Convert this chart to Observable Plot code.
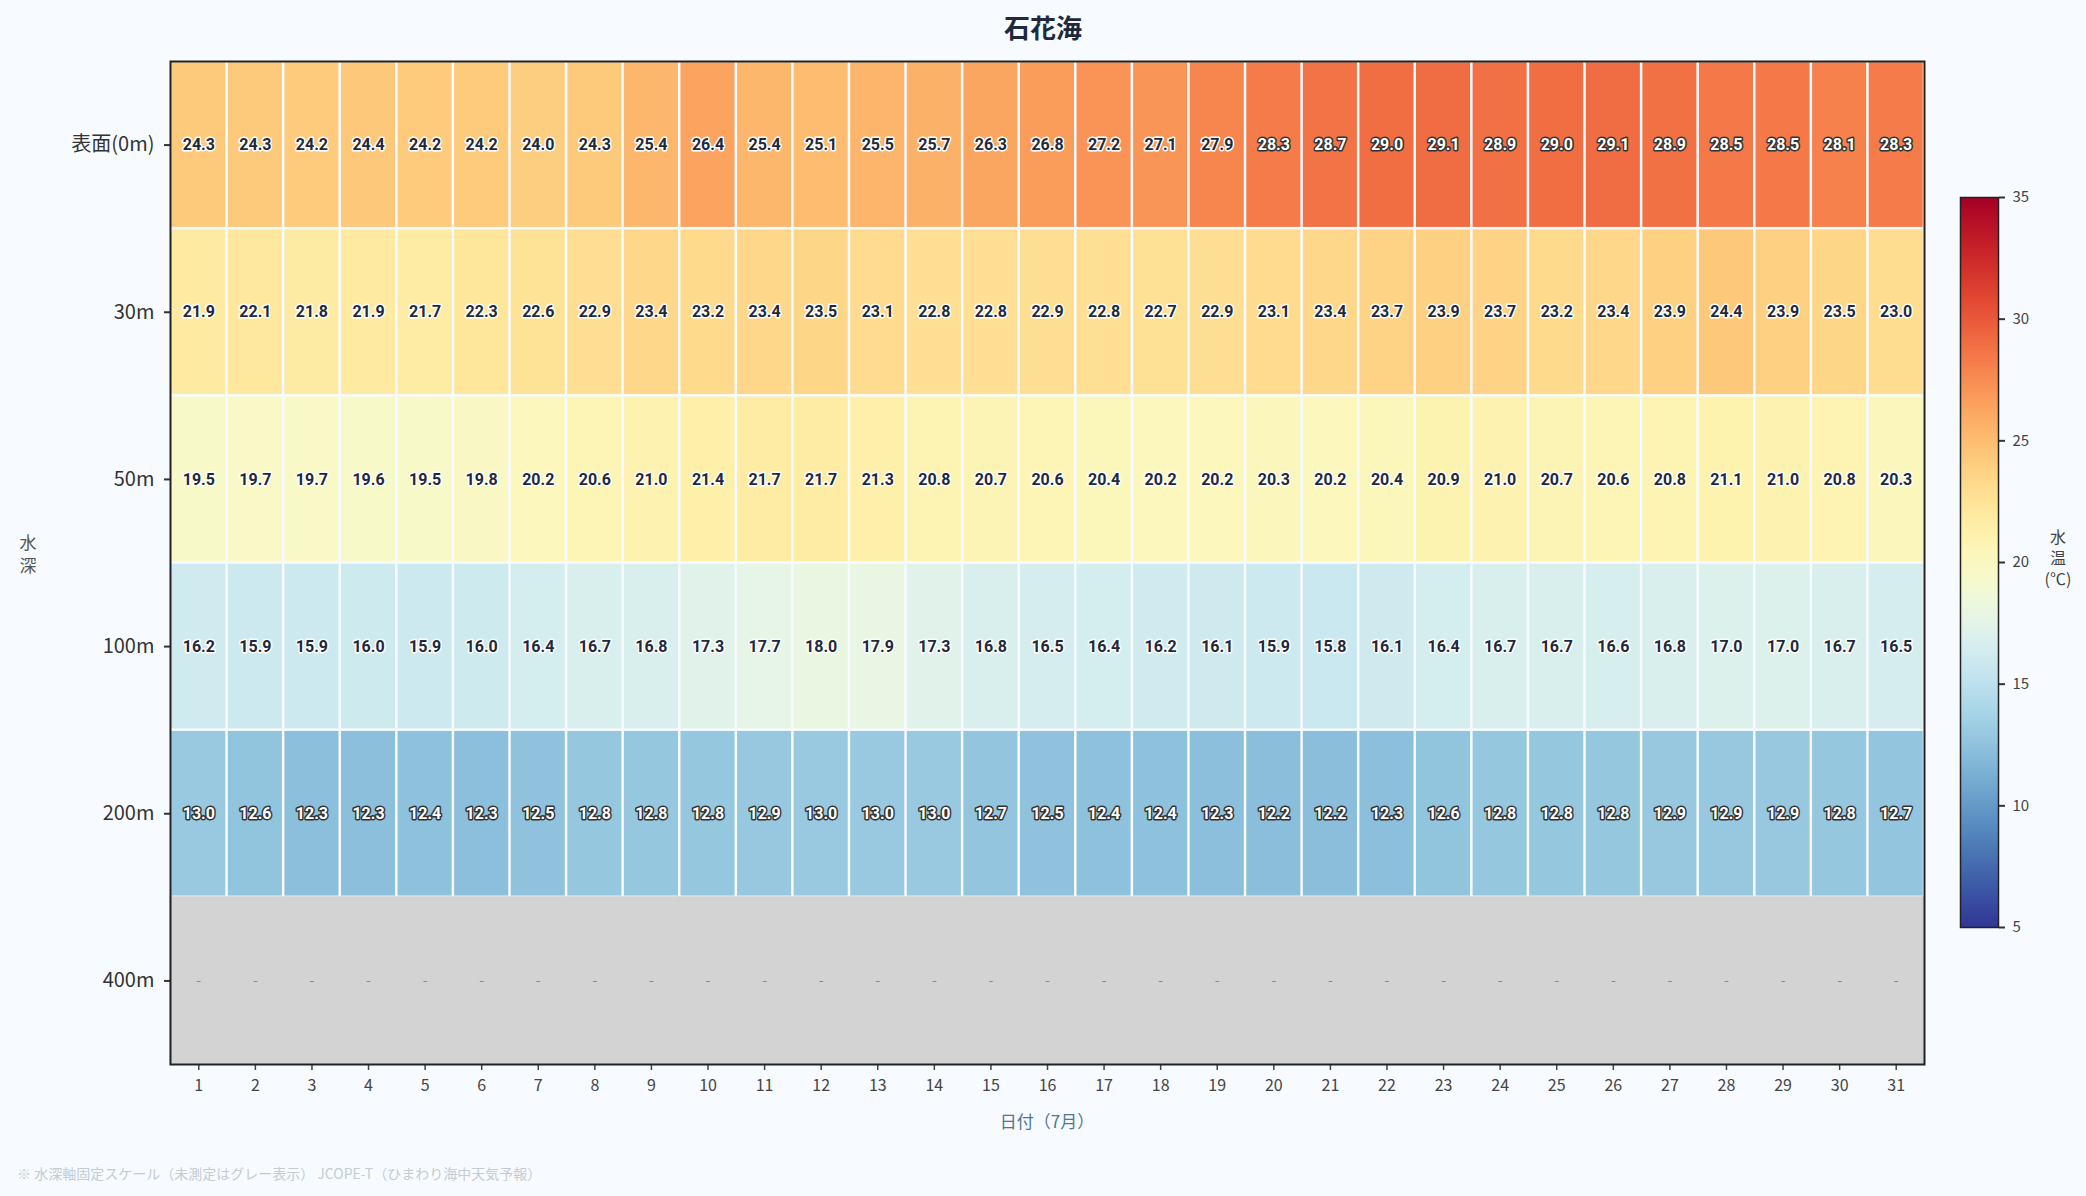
<!DOCTYPE html>
<html>
<head>
<meta charset="utf-8">
<script src="https://cdn.jsdelivr.net/npm/d3@7"></script>
<script src="https://cdn.jsdelivr.net/npm/@observablehq/plot@0.6"></script>
<style>
  html, body { margin: 0; padding: 0; background: #f7fbff; }
  body { width: 2086px; height: 1196px; position: relative; overflow: hidden;
         font-family: "Noto Sans CJK JP", "Noto Sans", sans-serif; }
  .abs { position: absolute; }
  #title { left: 0; width: 2086px; top: 8px; text-align: center; font-size: 26px; font-weight: bold; color: #1e293b; }
  #ylab { left: 17px; width: 22px; top: 530px; text-align: center; font-size: 17px; line-height: 23px; color: #555; }
  #xlab { left: 170px; width: 1754px; top: 1108px; text-align: center; font-size: 17px; color: #4f7697; }
  #foot { left: 17px; top: 1163px; font-size: 14px; color: #c3cbd3; }
  #clab { left: 2036px; width: 44px; top: 526px; text-align: center; font-size: 16px; line-height: 21px; color: #444; }
  #main { left: 0; top: 0; }
  #cbar { left: 1940px; top: 177px; }
</style>
</head>
<body>
<div id="main" class="abs"></div>
<div id="cbar" class="abs"></div>
<div id="title" class="abs">石花海</div>
<div id="ylab" class="abs">水<br>深</div>
<div id="xlab" class="abs">日付（7月）</div>
<div id="clab" class="abs">水<br>温<br>(℃)</div>
<div id="foot" class="abs">※ 水深軸固定スケール（未測定はグレー表示） JCOPE-T（ひまわり海中天気予報）</div>
<script>
const days = [1,2,3,4,5,6,7,8,9,10,11,12,13,14,15,16,17,18,19,20,21,22,23,24,25,26,27,28,29,30,31];
const depths = ["表面(0m)", "30m", "50m", "100m", "200m", "400m"];
const t0   = [24.3,24.3,24.2,24.4,24.2,24.2,24.0,24.3,25.4,26.4,25.4,25.1,25.5,25.7,26.3,26.8,27.2,27.1,27.9,28.3,28.7,29.0,29.1,28.9,29.0,29.1,28.9,28.5,28.5,28.1,28.3];
const t30  = [21.9,22.1,21.8,21.9,21.7,22.3,22.6,22.9,23.4,23.2,23.4,23.5,23.1,22.8,22.8,22.9,22.8,22.7,22.9,23.1,23.4,23.7,23.9,23.7,23.2,23.4,23.9,24.4,23.9,23.5,23.0];
const t50  = [19.5,19.7,19.7,19.6,19.5,19.8,20.2,20.6,21.0,21.4,21.7,21.7,21.3,20.8,20.7,20.6,20.4,20.2,20.2,20.3,20.2,20.4,20.9,21.0,20.7,20.6,20.8,21.1,21.0,20.8,20.3];
const t100 = [16.2,15.9,15.9,16.0,15.9,16.0,16.4,16.7,16.8,17.3,17.7,18.0,17.9,17.3,16.8,16.5,16.4,16.2,16.1,15.9,15.8,16.1,16.4,16.7,16.7,16.6,16.8,17.0,17.0,16.7,16.5];
const t200 = [13.0,12.6,12.3,12.3,12.4,12.3,12.5,12.8,12.8,12.8,12.9,13.0,13.0,13.0,12.7,12.5,12.4,12.4,12.3,12.2,12.2,12.3,12.6,12.8,12.8,12.8,12.9,12.9,12.9,12.8,12.7];
const t400 = days.map(() => null); // 未測定
const colorTicks = [5, 10, 15, 20, 25, 30, 35];

const series = [t0, t30, t50, t100, t200, t400];
const rows = [];
depths.forEach((dep, i) => days.forEach((d, j) => rows.push({day: d, depth: dep, temp: series[i][j]})));
const measured = rows.filter(r => r.temp != null);
const missing = rows.filter(r => r.temp == null);
const isLight = r => r.temp >= 28 || r.temp <= 14;

const main = Plot.plot({
  width: 2086, height: 1140,
  marginLeft: 170, marginRight: 162, marginTop: 61, marginBottom: 76,
  style: {background: "transparent", color: "#333", fontFamily: "'Noto Sans CJK JP', sans-serif"},
  x: {type: "band", domain: days, padding: 0, round: false, label: null},
  y: {type: "band", domain: depths, padding: 0, round: false, label: null},
  color: {type: "linear", scheme: "rdylbu", reverse: true, domain: [5, 35]},
  marks: [
    Plot.cell(missing, {x: "day", y: "depth", fill: "#d3d3d3", inset: -0.6}),
    Plot.cell(measured, {x: "day", y: "depth", fill: "temp", inset: 1.25}),
    Plot.text(measured.filter(r => !isLight(r)), {x: "day", y: "depth", text: r => r.temp.toFixed(1),
      fill: "#1e293b", stroke: "white", strokeWidth: 3, fontSize: 16, fontWeight: "bold", fontFamily: "Roboto"}),
    Plot.text(measured.filter(isLight), {x: "day", y: "depth", text: r => r.temp.toFixed(1),
      fill: "white", stroke: "#333", strokeWidth: 3, fontSize: 16, fontWeight: "bold", fontFamily: "Roboto"}),
    Plot.text(missing, {x: "day", y: "depth", text: () => "-", fill: "#888", fontSize: 14}),
    Plot.axisY({tickSize: 6, tickPadding: 10, fontSize: 20, label: null, color: "#333", strokeWidth: 2}),
    Plot.axisX({tickSize: 6, tickPadding: 9, fontSize: 16, label: null, color: "#444", strokeWidth: 1.5}),
    Plot.frame({stroke: "#222", strokeWidth: 2})
  ]
});
document.getElementById("main").appendChild(main);

const cbar = Plot.plot({
  width: 146, height: 770,
  marginLeft: 20, marginRight: 88, marginTop: 20, marginBottom: 20,
  style: {background: "transparent", color: "#444", fontFamily: "'Noto Sans CJK JP', sans-serif"},
  x: {domain: [0, 1], axis: null},
  y: {domain: [5, 35], label: null},
  color: {type: "linear", scheme: "rdylbu", reverse: true, domain: [5, 35]},
  marks: [
    Plot.raster({x1: 0, x2: 1, y1: 5, y2: 35, width: 1, height: 730, fill: (x, y) => y, imageRendering: "auto"}),
    Plot.axisY({anchor: "right", ticks: colorTicks, tickSize: 6, tickPadding: 8, fontSize: 15, label: null, strokeWidth: 2, stroke: "#333"}),
    Plot.frame({stroke: "#222", strokeWidth: 1.5})
  ]
});
document.getElementById("cbar").appendChild(cbar);
</script>
</body>
</html>
